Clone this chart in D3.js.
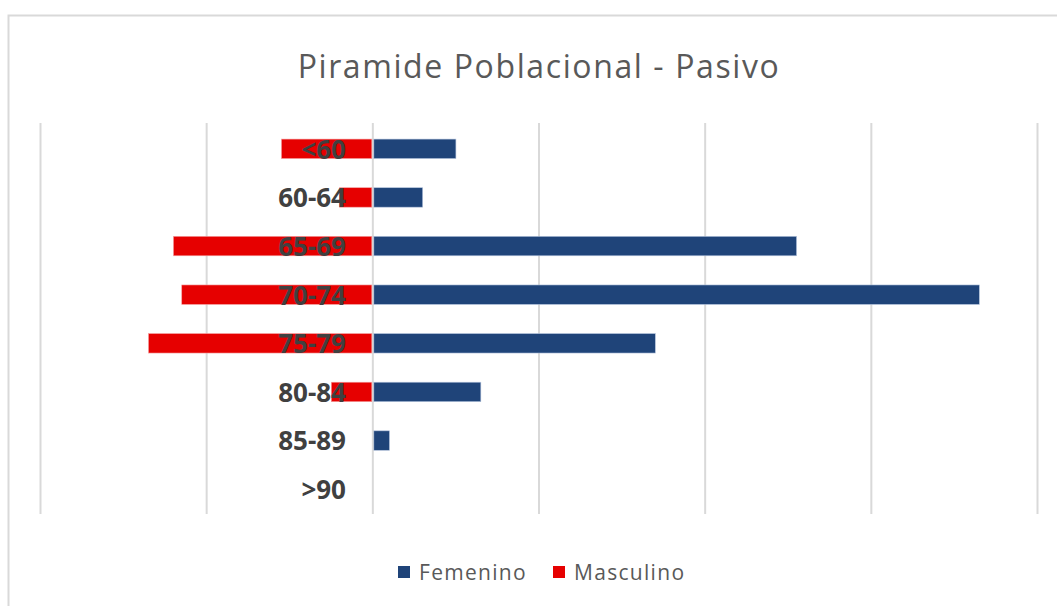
<!DOCTYPE html>
<html>
<head>
<meta charset="utf-8">
<script src="https://cdn.jsdelivr.net/npm/d3@7"></script>
<style>
    body { margin: 0; background: #fff; }
    svg { display: block; font-family: "Open Sans", "Noto Sans", sans-serif; }
</style>
</head>
<body>
<div id="chart"></div>
<script>
// age groups, top to bottom
const ageGroups = ["<60", "60-64", "65-69", "70-74", "75-79", "80-84", "85-89", ">90"];
const femenino = [10, 6, 51, 73, 34, 13, 2, 0];
const masculino = [11, 4, 24, 23, 27, 5, 0, 0];
const gridTicks = [-40, -20, 0, 20, 40, 60, 80];
const seriesNames = ["Femenino", "Masculino"];

const W = 1057, H = 606;
const blue = "#1f4479", red = "#e60000";

const svg = d3.select("#chart").append("svg")
    .attr("width", W)
    .attr("height", H);

// chart area border (runs off right / bottom edges)
svg.append("path")
    .attr("d", `M8.5,${H} L8.5,15.5 L${W},15.5`)
    .attr("fill", "none")
    .attr("stroke", "#d9d9d9")
    .attr("stroke-width", 2);

svg.append("text")
    .attr("x", 539)
    .attr("y", 78)
    .attr("text-anchor", "middle")
    .attr("font-size", 32)
    .attr("letter-spacing", 1.6)
    .attr("fill", "#595959")
    .text("Piramide Poblacional - Pasivo");

const x = d3.scaleLinear()
    .domain([-40, 80])
    .range([40.5, 1037.5]);

const y = d3.scaleBand()
    .domain(ageGroups)
    .range([124.5, 513.5])
    .paddingInner(0.6)
    .paddingOuter(0.3);

// vertical gridlines
svg.append("g").selectAll("line")
    .data(gridTicks)
    .enter().append("line")
    .attr("x1", d => x(d))
    .attr("x2", d => x(d))
    .attr("y1", 123)
    .attr("y2", 514)
    .attr("stroke", "#d9d9d9")
    .attr("stroke-width", 2);

const rows = ageGroups.map((g, i) => ({ group: g, f: femenino[i], m: masculino[i] }));

svg.append("g").selectAll("rect")
    .data(rows.filter(d => d.f > 0))
    .enter().append("rect")
    .attr("x", x(0) + 1)
    .attr("y", d => y(d.group))
    .attr("width", d => x(d.f) - x(0) - 1)
    .attr("height", y.bandwidth())
    .attr("fill", blue)
    .attr("stroke", "#b4c3dc")
    .attr("stroke-width", 0.6);

svg.append("g").selectAll("rect")
    .data(rows.filter(d => d.m > 0))
    .enter().append("rect")
    .attr("x", d => x(-d.m))
    .attr("y", d => y(d.group))
    .attr("width", d => x(0) - x(-d.m) - 1)
    .attr("height", y.bandwidth())
    .attr("fill", red)
    .attr("stroke", "#f4a0a0")
    .attr("stroke-width", 0.6);

// category labels sit on top of the bars
svg.append("g").selectAll("text")
    .data(ageGroups)
    .enter().append("text")
    .attr("x", 346)
    .attr("y", d => y(d) + y.bandwidth() / 2)
    .attr("dy", "0.38em")
    .attr("text-anchor", "end")
    .attr("font-size", 26)
    .attr("font-weight", "bold")
    .attr("fill", "#404040")
    .text(d => d);

// legend
const legend = svg.append("g");
const legendX = [398, 553];
const legendColors = [blue, red];
seriesNames.forEach((name, i) => {
    legend.append("rect")
        .attr("x", legendX[i])
        .attr("y", 566)
        .attr("width", 12)
        .attr("height", 12)
        .attr("fill", legendColors[i]);
    legend.append("text")
        .attr("x", legendX[i] + 21)
        .attr("y", 572)
        .attr("dy", "0.36em")
        .attr("font-size", 21)
        .attr("letter-spacing", 1.3)
        .attr("fill", "#595959")
        .text(name);
});
</script>
</body>
</html>
